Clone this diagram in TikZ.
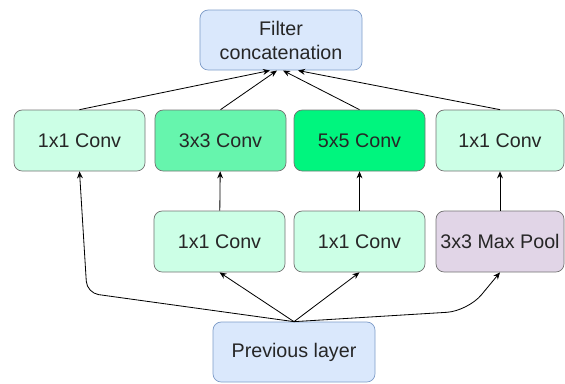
\documentclass[tikz,border=0pt]{standalone}
\usepackage{fontspec}
\setmainfont{Liberation Sans}
\usepackage{xcolor}
\usepackage{tikz}
\usetikzlibrary{arrows.meta}

\definecolor{layerblue}{HTML}{DAE8FC}
\definecolor{layerline}{HTML}{7E9CC8}
\definecolor{lightmint}{HTML}{CCFFE6}
\definecolor{midgreen}{HTML}{66F5AD}
\definecolor{brightgreen}{HTML}{00F57E}
\definecolor{poolpurple}{HTML}{E1D5E7}

\begin{document}
\begin{tikzpicture}[
			     x=0.03cm, y=-0.03cm,
			     >={Stealth[length=6pt,width=5pt]},
			     box/.style={rounded corners=7pt, line width=0.6pt, draw=black!55,
			                 minimum width=3.93cm, minimum height=1.83cm, inner sep=0pt,
			                 font=\fontsize{16.8}{20.5}\selectfont, text=black!85},
			     layer/.style={box, fill=layerblue, draw=layerline, minimum width=4.86cm, minimum height=1.8cm, align=center},
			     normal line/.style={->, line width=0.7pt}
			     ]
\useasboundingbox (0,0) rectangle (565,383);
% top and bottom layers
\node[layer] (concat) at (281,40) {Filter\\concatenation};
\node[layer] (prev) at (294,352) {Previous layer};
% upper row
\node[box, fill=lightmint] (c11a) at (79.5,140.5) {1x1 Conv};
\node[box, fill=midgreen] (c33) at (220.5,140.5) {3x3 Conv};
\node[box, fill=brightgreen] (c55) at (359.5,140.5) {5x5 Conv};
\node[box, fill=lightmint, minimum width=3.84cm] (c11d) at (500,140.5) {1x1 Conv};
% lower row
\node[box, fill=lightmint] (r33) at (219.5,241.5) {1x1 Conv};
\node[box, fill=lightmint] (r55) at (359.5,241.5) {1x1 Conv};
\node[box, fill=poolpurple, minimum width=3.84cm] (pool) at (500,241.5) {3x3 Max Pool};
% where the arrows meet the concatenation
\coordinate (in1) at (270,70.5);
\coordinate (in2) at (277,70.5);
\coordinate (in3) at (283,70.5);
\coordinate (in4) at (298,70.5);
\coordinate (bendl) at (87,293);
\coordinate (bendr) at (468,311);

\path (c11a.north) edge[normal line] (in1);
\path (c33.north) edge[normal line] (in2);
\path (c55.north) edge[normal line] (in3);
\path (c11d.north) edge[normal line] (in4);

\path (r33) edge[normal line] (c33);
\path (r55) edge[normal line] (c55);
\path (pool) edge[normal line] (c11d);

\path (prev.north) edge[normal line] (r33.south);
\path (prev.north) edge[normal line] (r55.south);
\draw[normal line, rounded corners=10pt] (prev.north) -- (bendl) -- (c11a.south);
\draw[normal line, rounded corners=18pt] (prev.north) -- (bendr) -- (pool.south);
\end{tikzpicture}
\end{document}
